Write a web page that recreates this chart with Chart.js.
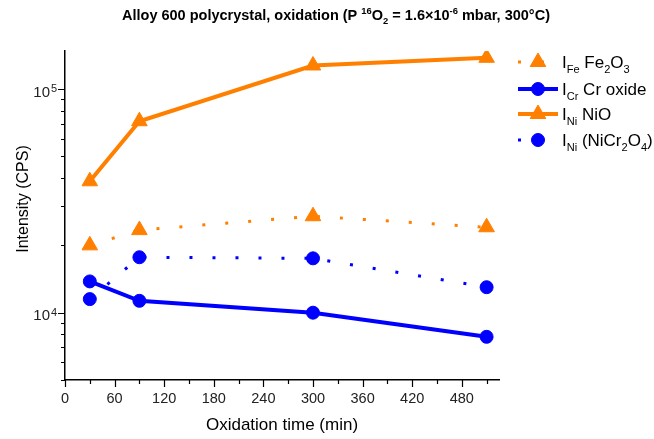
<!DOCTYPE html>
<html>
<head>
<meta charset="utf-8">
<script src="https://cdn.jsdelivr.net/npm/chart.js@4.4.0/dist/chart.umd.min.js"></script>
<style>
  html, body { margin: 0; padding: 0; background: #fff; }
  #wrap { width: 654px; height: 439px; }
</style>
</head>
<body>
<div id="wrap"><canvas id="myChart" width="654" height="439"></canvas></div>
<script>
// Data
const times = [30, 90, 300, 510];               // oxidation time (min)
const feFe2O3 = [20000, 23400, 27000, 24100];   // I_Fe Fe2O3
const crOxide = [13800, 11300, 10000, 7800];    // I_Cr Cr oxide
const niNiO = [38700, 71800, 127500, 138000];   // I_Ni NiO
const niNiCr2O4 = [11500, 17700, 17500, 13000]; // I_Ni (NiCr2O4)

const xTicks = [0, 30, 60, 90, 120, 150, 180, 210, 240, 270, 300, 330, 360, 390, 420, 450, 480, 510];
const yTicks = [5000, 6000, 7000, 8000, 9000, 10000, 20000, 30000, 40000, 50000, 60000, 70000, 80000, 90000, 100000];
const yTickLabels = { 10000: ['10', '4'], 100000: ['10', '5'] };

const ORANGE = '#FF8000';
const BLUE = '#0000FF';
const FONT = 'Arial, "Liberation Sans", sans-serif';

const toPoints = (ys) => times.map((t, i) => ({ x: t, y: ys[i] }));

// draw text with sub/superscripts, returns width
function richText(ctx, parts, x, y, size, weight, measureOnly) {
  let cx = x;
  parts.forEach(([txt, kind]) => {
    let s = size, dy = 0;
    if (kind === 'sub') { s = size * 0.65; dy = size * 0.3; }
    if (kind === 'sup') { s = size * 0.65; dy = -size * 0.4; }
    ctx.font = weight + ' ' + s + 'px ' + FONT;
    if (!measureOnly) ctx.fillText(txt, cx, y + dy);
    cx += ctx.measureText(txt).width;
  });
  return cx - x;
}

const legendItems = [
  { color: ORANGE, style: 'triangle', radius: 9, dash: [3, 20], parts: [['I'], ['Fe', 'sub'], [' Fe'], ['2', 'sub'], ['O'], ['3', 'sub']] },
  { color: BLUE, style: 'circle', radius: 6.5, dash: [], parts: [['I'], ['Cr', 'sub'], [' Cr oxide']] },
  { color: ORANGE, style: 'triangle', radius: 9, dash: [], parts: [['I'], ['Ni', 'sub'], [' NiO']] },
  { color: BLUE, style: 'circle', radius: 6.5, dash: [3, 20], parts: [['I'], ['Ni', 'sub'], [' (NiCr'], ['2', 'sub'], ['O'], ['4', 'sub'], [')']] }
];
const legendY = [62, 89, 114, 140];

const annotations = {
  id: 'annotations',
  afterDraw(chart) {
    const ctx = chart.ctx;
    const xs = chart.scales.x, ys = chart.scales.y;
    const area = chart.chartArea;
    ctx.save();
    ctx.fillStyle = '#000';
    ctx.textBaseline = 'alphabetic';

    // title
    const title = [['Alloy 600 polycrystal, oxidation (P '], ['16', 'sup'], ['O'], ['2', 'sub'],
                   [' = 1.6\u00d710'], ['-6', 'sup'], [' mbar, 300\u00b0C)']];
    richText(ctx, title, 122, 20, 14.5, 'bold', false);

    // axis tick marks (major long, minor short)
    ctx.strokeStyle = '#000';
    ctx.lineWidth = 1.2;
    ctx.beginPath();
    xTicks.forEach(v => {
      const px = Math.round(xs.getPixelForValue(v)) + 0.5;
      const len = v % 60 === 0 ? 7 : 4;
      ctx.moveTo(px, area.bottom);
      ctx.lineTo(px, area.bottom + len);
    });
    yTicks.forEach(v => {
      const py = Math.round(ys.getPixelForValue(v)) + 0.5;
      const len = yTickLabels[v] ? 7 : 4;
      ctx.moveTo(area.left, py);
      ctx.lineTo(area.left - len, py);
    });
    ctx.stroke();

    // y tick labels 10^n
    ctx.fillStyle = '#222';
    Object.keys(yTickLabels).forEach(k => {
      const py = ys.getPixelForValue(Number(k));
      const [b, e] = yTickLabels[k];
      ctx.font = '15px ' + FONT;
      ctx.textAlign = 'right';
      ctx.fillText(b, 50, py + 7.5);
      ctx.textAlign = 'left';
      ctx.font = '11px ' + FONT;
      ctx.fillText(e, 51, py + 3);
    });

    // y axis title
    ctx.fillStyle = '#000';
    ctx.save();
    ctx.translate(27.5, 199);
    ctx.rotate(-Math.PI / 2);
    ctx.textAlign = 'center';
    ctx.font = '16px ' + FONT;
    ctx.fillText('Intensity (CPS)', 0, 0);
    ctx.restore();

    // legend
    ctx.textAlign = 'left';
    legendItems.forEach((it, i) => {
      const y = legendY[i];
      ctx.strokeStyle = it.color;
      ctx.lineWidth = it.dash.length ? 3 : 4;
      ctx.setLineDash(it.dash);
      ctx.beginPath();
      ctx.moveTo(518, y);
      ctx.lineTo(558, y);
      ctx.stroke();
      ctx.setLineDash([]);
      ctx.fillStyle = it.color;
      ctx.lineWidth = 1;
      Chart.helpers.drawPoint(ctx, { pointStyle: it.style, radius: it.radius, borderWidth: 1, rotation: 0 }, 538, y);
      ctx.fillStyle = '#000';
      richText(ctx, it.parts, 562, y + 6, 17, 'normal', false);
    });
    ctx.restore();
  }
};

const mkSet = (label, ys, color, style, radius, dash) => ({
  label: label,
  data: toPoints(ys),
  borderColor: color,
  backgroundColor: color,
  borderWidth: dash.length ? 3 : 4,
  borderDash: dash,
  pointStyle: style,
  pointRadius: radius,
  pointHoverRadius: radius,
  pointBorderWidth: 1,
  pointBorderColor: color,
  pointBackgroundColor: color,
  tension: 0
});

const config = {
  type: 'line',
  data: {
    datasets: [
      mkSet('I_Fe Fe2O3', feFe2O3, ORANGE, 'triangle', 9, [3, 20]),
      mkSet('I_Cr Cr oxide', crOxide, BLUE, 'circle', 6.5, []),
      mkSet('I_Ni NiO', niNiO, ORANGE, 'triangle', 9, []),
      mkSet('I_Ni (NiCr2O4)', niNiCr2O4, BLUE, 'circle', 6.5, [3, 20])
    ]
  },
  options: {
    responsive: false,
    animation: false,
    layout: { padding: { top: 51, right: 155, left: 0, bottom: 0 } },
    plugins: {
      legend: { display: false },
      tooltip: { enabled: false },
      title: { display: false }
    },
    scales: {
      x: {
        type: 'linear',
        min: 0,
        max: 525,
        afterBuildTicks: (s) => { s.ticks = xTicks.map(v => ({ value: v })); },
        afterFit: (s) => { s.height = 59; },
        ticks: {
          autoSkip: false,
          maxRotation: 0,
          padding: 10,
          color: '#222',
          font: { family: FONT, size: 14.5 },
          callback: (v) => (v % 60 === 0 ? String(v) : '')
        },
        grid: { display: false, drawTicks: false, tickLength: 0 },
        border: { color: '#000', width: 1.5 },
        title: {
          display: true,
          text: 'Oxidation time (min)',
          color: '#000',
          font: { family: FONT, size: 17 },
          padding: { top: 0, bottom: 3 }
        }
      },
      y: {
        type: 'logarithmic',
        min: 5000,
        max: 148000,
        afterBuildTicks: (s) => { s.ticks = yTicks.map(v => ({ value: v })); },
        afterFit: (s) => { s.width = 65; },
        ticks: {
          autoSkip: false,
          callback: () => ''
        },
        grid: { display: false, drawTicks: false, tickLength: 0 },
        border: { color: '#000', width: 1.5 },
        title: { display: false }
      }
    }
  },
  plugins: [annotations]
};

const mychart = new Chart(document.getElementById('myChart').getContext('2d'), config);
</script>
</body>
</html>
